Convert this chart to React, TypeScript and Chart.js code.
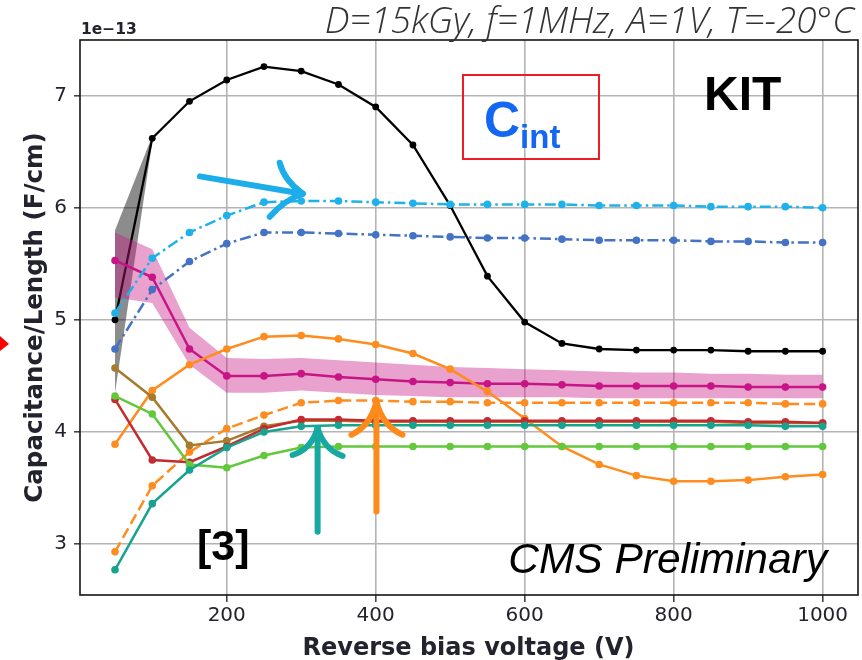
import React, { useEffect, useRef } from "react";
import { Chart, registerables } from "chart.js";

Chart.register(...registerables);

// Reverse bias voltage (V)
const voltages = [50, 100, 150, 200, 250, 300, 350, 400, 450, 500, 550, 600, 650, 700, 750, 800, 850, 900, 950, 1000];

// Interstrip capacitance per length, in units of 1e-13 F/cm
const cBlack = [5.0, 6.62, 6.95, 7.14, 7.26, 7.22, 7.1, 6.9, 6.56, 6.02, 5.39, 4.98, 4.79, 4.74, 4.73, 4.73, 4.73, 4.72, 4.72, 4.72];
const bandBlackX = [50, 100];
const bandBlackUpper = [5.8, 6.64];
const bandBlackLower = [4.35, 6.59];

const cLightBlue = [5.06, 5.55, 5.78, 5.93, 6.05, 6.06, 6.06, 6.05, 6.04, 6.03, 6.03, 6.03, 6.03, 6.02, 6.02, 6.02, 6.01, 6.01, 6.01, 6.0];
const cDarkBlue = [4.74, 5.27, 5.52, 5.68, 5.78, 5.78, 5.77, 5.76, 5.75, 5.74, 5.73, 5.73, 5.72, 5.71, 5.71, 5.71, 5.7, 5.7, 5.69, 5.69];

const cMagenta = [5.53, 5.38, 4.74, 4.5, 4.5, 4.52, 4.49, 4.47, 4.45, 4.44, 4.43, 4.43, 4.42, 4.41, 4.41, 4.41, 4.41, 4.4, 4.4, 4.4];
const bandMagentaUpper = [5.78, 5.63, 4.93, 4.66, 4.65, 4.66, 4.64, 4.62, 4.6, 4.58, 4.57, 4.56, 4.55, 4.54, 4.53, 4.53, 4.52, 4.52, 4.51, 4.51];
const bandMagentaLower = [5.2, 5.15, 4.6, 4.35, 4.35, 4.37, 4.35, 4.33, 4.32, 4.31, 4.31, 4.31, 4.31, 4.3, 4.3, 4.3, 4.3, 4.3, 4.3, 4.3];

const cOrange = [3.89, 4.37, 4.6, 4.74, 4.85, 4.86, 4.83, 4.78, 4.7, 4.56, 4.36, 4.12, 3.87, 3.71, 3.61, 3.56, 3.56, 3.57, 3.6, 3.62];
const cOrangeDashed = [2.93, 3.52, 3.82, 4.03, 4.15, 4.26, 4.28, 4.28, 4.27, 4.27, 4.26, 4.26, 4.26, 4.26, 4.26, 4.26, 4.26, 4.26, 4.25, 4.25];
const cRed = [4.29, 3.75, 3.73, 3.87, 4.03, 4.11, 4.11, 4.1, 4.1, 4.1, 4.1, 4.1, 4.1, 4.1, 4.1, 4.1, 4.1, 4.09, 4.09, 4.08];
const cBrown = [4.57, 4.31, 3.88, 3.92, 4.05, 4.1, 4.1, 4.09, 4.09, 4.09, 4.09, 4.09, 4.09, 4.09, 4.09, 4.09, 4.09, 4.08, 4.08, 4.08];
const cGreen = [4.32, 4.16, 3.71, 3.68, 3.79, 3.86, 3.87, 3.87, 3.87, 3.87, 3.87, 3.87, 3.87, 3.87, 3.87, 3.87, 3.87, 3.87, 3.87, 3.87];
const cTeal = [2.77, 3.36, 3.66, 3.86, 4.0, 4.05, 4.06, 4.06, 4.06, 4.06, 4.06, 4.06, 4.06, 4.06, 4.06, 4.06, 4.06, 4.06, 4.05, 4.05];

// Axis ticks
const xTicks = [200, 400, 600, 800, 1000];
const yTicks = [3, 4, 5, 6, 7];

const TEXT_DARK = "#23232e";

const pts = (xs: number[], ys: number[]) => xs.map((x, i) => ({ x, y: ys[i] }));

function lineSet(label: string, ys: number[], color: string, extra: any = {}) {
  return {
    label,
    data: pts(voltages, ys),
    borderColor: color,
    backgroundColor: color,
    pointBackgroundColor: color,
    pointBorderWidth: 0,
    pointRadius: 3.8,
    borderWidth: 2.5,
    tension: 0,
    fill: false,
    ...extra,
  };
}

function bandEdge(label: string, xs: number[], ys: number[], fill: any, color: string) {
  return {
    label,
    data: pts(xs, ys),
    borderWidth: 0,
    borderColor: "rgba(0,0,0,0)",
    pointRadius: 0,
    tension: 0,
    fill,
    backgroundColor: color,
  };
}

// Arrow with a straight shaft and two curved barbs; barbs are [ctrlDx, ctrlDy, endDx, endDy] from the tip
function drawArrow(ctx: CanvasRenderingContext2D, tail: number[], tip: number[], barbs: number[][], color: string) {
  ctx.save();
  ctx.strokeStyle = color;
  ctx.lineWidth = 6;
  ctx.lineCap = "round";
  ctx.lineJoin = "round";
  ctx.beginPath();
  ctx.moveTo(tail[0], tail[1]);
  ctx.lineTo(tip[0], tip[1]);
  ctx.stroke();
  for (const [cx, cy, ex, ey] of barbs) {
    ctx.beginPath();
    ctx.moveTo(tip[0], tip[1]);
    ctx.quadraticCurveTo(tip[0] + cx, tip[1] + cy, tip[0] + ex, tip[1] + ey);
    ctx.stroke();
  }
  ctx.restore();
}

const overlayPlugin = {
  id: "overlay",
  afterDatasetsDraw(chart: any) {
    const { ctx, chartArea: a, scales } = chart;
    const px = (v: number) => scales.x.getPixelForValue(v);
    const py = (v: number) => scales.y.getPixelForValue(v);
    ctx.save();

    // plot frame
    ctx.strokeStyle = "#151515";
    ctx.lineWidth = 1.6;
    ctx.strokeRect(a.left, a.top, a.right - a.left, a.bottom - a.top);

    // arrows
    drawArrow(ctx, [px(164), py(6.28)], [px(302), py(6.125)], [[-19, -14, -23, -31], [-18, 6, -33, 23]], "#1caeea");
    drawArrow(ctx, [px(322), py(3.11)], [px(322), py(4.035)], [[-6, 21, -25, 27], [6, 21, 25, 28]], "#17a8a2");
    drawArrow(ctx, [px(401), py(3.29)], [px(401), py(4.27)], [[-6, 24, -25, 33], [6, 24, 26, 33]], "#ff8a1c");

    // text annotations
    ctx.textAlign = "left";
    ctx.textBaseline = "alphabetic";
    ctx.fillStyle = "#000";
    ctx.font = "bold 48px 'Liberation Sans'";
    ctx.fillText("KIT", 704, 110);

    ctx.font = "bold 43px 'Liberation Sans'";
    ctx.fillText("[3]", 197, 560);

    ctx.textAlign = "right";
    ctx.font = "italic 42.5px 'Liberation Sans'";
    ctx.fillText("CMS Preliminary", 827, 573);

    // C_int label in a red box
    ctx.strokeStyle = "#ee1c24";
    ctx.lineWidth = 2;
    ctx.strokeRect(463, 75, 136, 84);
    ctx.textAlign = "left";
    ctx.fillStyle = "#1467f2";
    ctx.font = "bold 50px 'Liberation Sans'";
    ctx.fillText("C", 484, 137);
    const cw = ctx.measureText("C").width;
    ctx.font = "bold 33px 'Liberation Sans'";
    ctx.fillText("int", 484 + cw, 148);

    // measurement conditions
    ctx.fillStyle = "#333";
    ctx.textAlign = "right";
    ctx.font = "italic 300 36.8px 'Open Sans'";
    ctx.fillText("D=15kGy, f=1MHz, A=1V, T=-20\u00B0C", 854, 33);

    // y offset text
    ctx.textAlign = "left";
    ctx.fillStyle = TEXT_DARK;
    ctx.font = "bold 15.5px 'DejaVu Sans'";
    ctx.fillText("1e\u221213", 81, 34);

    // axis titles
    ctx.textAlign = "center";
    ctx.font = "bold 24px 'DejaVu Sans'";
    ctx.fillText("Reverse bias voltage (V)", 468.5, 655);
    ctx.save();
    ctx.font = "bold 24.5px 'DejaVu Sans'";
    ctx.translate(42, 317.5);
    ctx.rotate(-Math.PI / 2);
    ctx.fillText("Capacitance/Length (F/cm)", 0, 0);
    ctx.restore();

    // pointer at the left edge
    ctx.fillStyle = "#ff0000";
    ctx.beginPath();
    ctx.moveTo(0, 336);
    ctx.lineTo(9, 344);
    ctx.lineTo(0, 351);
    ctx.closePath();
    ctx.fill();

    ctx.restore();
  },
};

export default function App() {
  const ref = useRef<HTMLCanvasElement>(null);

  useEffect(() => {
    const canvas = ref.current;
    if (!canvas) return;

    // listed bottom to top in drawing order
    const layers: any[] = [
      bandEdge("band-black-lower", bandBlackX, bandBlackLower, false, "rgba(0,0,0,0)"),
      bandEdge("band-black-upper", bandBlackX, bandBlackUpper, "-1", "rgba(0,0,0,0.45)"),
      lineSet("black", cBlack, "#000000", { pointRadius: 3.4, borderWidth: 2.3 }),
      bandEdge("band-magenta-lower", voltages, bandMagentaLower, false, "rgba(0,0,0,0)"),
      bandEdge("band-magenta-upper", voltages, bandMagentaUpper, "-1", "rgba(199,21,133,0.4)"),
      lineSet("magenta", cMagenta, "#c71585"),
      lineSet("lightblue", cLightBlue, "#1fb1ea", { borderDash: [11, 4, 2.5, 4] }),
      lineSet("darkblue", cDarkBlue, "#4472c4", { borderDash: [11, 4, 2.5, 4] }),
      lineSet("orange", cOrange, "#ff8c1e"),
      lineSet("orange-dashed", cOrangeDashed, "#ff8c1e", { borderDash: [11, 5] }),
      lineSet("brown", cBrown, "#a67b2e"),
      lineSet("red", cRed, "#c42a2f"),
      lineSet("green", cGreen, "#62c83c"),
      lineSet("teal", cTeal, "#17a38e"),
    ];
    const n = layers.length;
    layers.forEach((d, i) => (d.order = n - i));

    const chart = new Chart(canvas, {
      type: "line",
      data: { datasets: layers },
      plugins: [overlayPlugin],
      options: {
        animation: false,
        responsive: false,
        devicePixelRatio: 1,
        layout: { padding: { left: 0, right: 4, top: 40, bottom: 0 } },
        plugins: {
          legend: { display: false },
          tooltip: { enabled: false },
          title: { display: false },
        },
        scales: {
          x: {
            type: "linear",
            min: 3,
            max: 1047.5,
            afterBuildTicks: (axis: any) => {
              axis.ticks = xTicks.map((v) => ({ value: v }));
            },
            afterFit: (axis: any) => {
              axis.height = 65;
            },
            border: { display: false },
            grid: { color: "#b4b4b4", lineWidth: 1.6, tickLength: 7, tickColor: "#444", drawTicks: true },
            ticks: {
              autoSkip: false,
              maxRotation: 0,
              padding: 2,
              color: TEXT_DARK,
              font: { family: "'DejaVu Sans'", size: 20 },
              callback: (v: any) => String(v),
            },
          },
          y: {
            type: "linear",
            min: 2.545,
            max: 7.497,
            afterBuildTicks: (axis: any) => {
              axis.ticks = yTicks.map((v) => ({ value: v }));
            },
            afterFit: (axis: any) => {
              axis.width = 80;
            },
            border: { display: false },
            grid: { color: "#b4b4b4", lineWidth: 1.6, tickLength: 6, tickColor: "#444", drawTicks: true },
            ticks: {
              autoSkip: false,
              padding: 7,
              color: TEXT_DARK,
              font: { family: "'DejaVu Sans'", size: 20 },
              callback: (v: any) => String(v),
            },
          },
        },
      } as any,
    });

    return () => chart.destroy();
  }, []);

  return (
    <div style={{ position: "absolute", left: 0, top: 0, width: 862, height: 660, background: "#fff" }}>
      <canvas ref={ref} width={862} height={660} style={{ display: "block", width: 862, height: 660 }} />
    </div>
  );
}
